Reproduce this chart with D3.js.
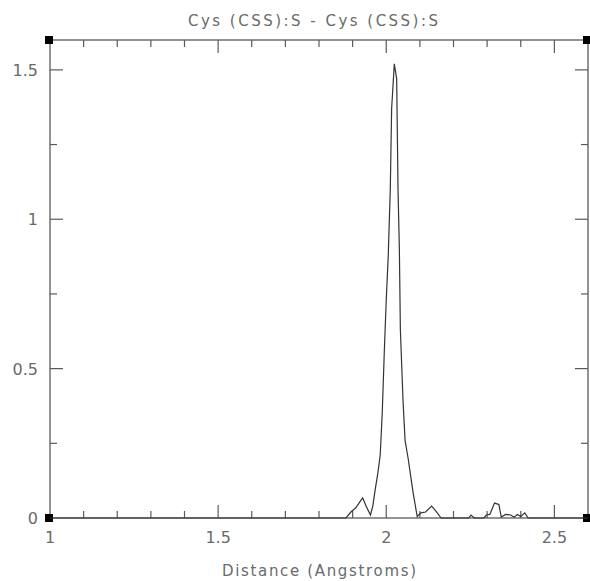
<!DOCTYPE html>
<html>
<head>
<meta charset="utf-8">
<script src="https://cdn.jsdelivr.net/npm/d3@7"></script>
<style>
  html, body { margin: 0; padding: 0; background: #fff; }
  svg text { font-family: "DejaVu Sans", sans-serif; fill: #6a6a6a; }
</style>
</head>
<body>
<svg id="chart" width="590" height="581"></svg>
<script>
// S–S distance distribution for Cys (CSS):S pairs
const distances = [1.00, 1.88, 1.895, 1.91, 1.925, 1.93, 1.94, 1.953, 1.96, 1.967, 1.975, 1.982,
  1.988, 1.994, 2.000, 2.006, 2.012, 2.016, 2.024, 2.031, 2.035, 2.039, 2.042, 2.050, 2.056,
  2.065, 2.080, 2.092, 2.103, 2.117, 2.135, 2.150, 2.163, 2.245, 2.252, 2.262, 2.290, 2.298,
  2.308, 2.322, 2.335, 2.342, 2.355, 2.370, 2.380, 2.390, 2.400, 2.412, 2.422, 2.60];
const density = [0, 0, 0.02, 0.035, 0.06, 0.067, 0.04, 0.01, 0.04, 0.094, 0.15, 0.21,
  0.35, 0.55, 0.73, 0.88, 1.10, 1.37, 1.52, 1.47, 1.10, 0.90, 0.63, 0.39, 0.26,
  0.20, 0.084, 0.005, 0.017, 0.02, 0.04, 0.02, 0, 0, 0.01, 0, 0, 0.01,
  0.012, 0.05, 0.045, 0.003, 0.012, 0.01, 0.003, 0.012, 0.005, 0.017, 0, 0];

const xMajorTicks = [1, 1.5, 2, 2.5];
const xTickLabels = ["1", "1.5", "2", "2.5"];
const yMajorTicks = [0, 0.5, 1, 1.5];
const yTickLabels = ["0", "0.5", "1", "1.5"];
const title = "Cys (CSS):S - Cys (CSS):S";
const xTitle = "Distance (Angstroms)";

const svg = d3.select("#chart");
const m = { left: 50, right: 588, top: 40, bottom: 518 };

const x = d3.scaleLinear().domain([1, 2.6]).range([m.left, m.right]);
const y = d3.scaleLinear().domain([0, 1.6]).range([m.bottom, m.top]);

const axisColor = "#5a5a5a";
const major = 13, minor = 7;

const xMinor = d3.range(1.1, 2.6, 0.1).map(v => +v.toFixed(2)).filter(v => !xMajorTicks.includes(v));
const yMinor = [0.25, 0.75, 1.25];

// frame
svg.append("rect")
  .attr("x", m.left).attr("y", m.top)
  .attr("width", m.right - m.left).attr("height", m.bottom - m.top)
  .attr("fill", "none").attr("stroke", axisColor).attr("stroke-width", 1.3);

const ticks = svg.append("g").attr("stroke", axisColor).attr("stroke-width", 1.2);

// x ticks on bottom (upward) and top (downward)
function xTick(v, len) {
  ticks.append("line").attr("x1", x(v)).attr("x2", x(v)).attr("y1", m.bottom).attr("y2", m.bottom - len);
  ticks.append("line").attr("x1", x(v)).attr("x2", x(v)).attr("y1", m.top).attr("y2", m.top + len);
}
xMajorTicks.filter(v => v > 1).forEach(v => xTick(v, major));
xMinor.forEach(v => xTick(v, minor));

// y ticks on left (rightward) and right (leftward)
function yTick(v, len) {
  ticks.append("line").attr("x1", m.left).attr("x2", m.left + len).attr("y1", y(v)).attr("y2", y(v));
  ticks.append("line").attr("x1", m.right).attr("x2", m.right - len).attr("y1", y(v)).attr("y2", y(v));
}
yMajorTicks.filter(v => v > 0).forEach(v => yTick(v, major));
yMinor.forEach(v => yTick(v, minor));

// corner markers
[[m.left, m.top], [m.right, m.top], [m.left, m.bottom], [m.right, m.bottom]].forEach(([cx, cy]) => {
  svg.append("rect").attr("x", cx - 5).attr("y", cy - 4).attr("width", 8).attr("height", 8).attr("fill", "#000");
});

// tick labels
svg.selectAll(".xl").data(xMajorTicks).enter().append("text")
  .attr("x", d => x(d)).attr("y", m.bottom + 25)
  .attr("text-anchor", "middle").attr("font-size", 16)
  .text((d, i) => xTickLabels[i]);

svg.selectAll(".yl").data(yMajorTicks).enter().append("text")
  .attr("x", m.left - 12).attr("y", d => y(d) + 6)
  .attr("text-anchor", "end").attr("font-size", 16)
  .text((d, i) => yTickLabels[i]);

// titles
svg.append("text").attr("x", 313).attr("y", 26).attr("text-anchor", "middle")
  .attr("font-size", 15).attr("textLength", 250).attr("lengthAdjust", "spacing").text(title);
svg.append("text").attr("x", 319).attr("y", 576).attr("text-anchor", "middle")
  .attr("font-size", 15).attr("textLength", 194).attr("lengthAdjust", "spacing").text(xTitle);

// distribution curve
const line = d3.line().x((d, i) => x(distances[i])).y(d => y(d));
svg.append("path").datum(density)
  .attr("d", line)
  .attr("fill", "none").attr("stroke", "#333").attr("stroke-width", 1.2);
</script>
</body>
</html>
